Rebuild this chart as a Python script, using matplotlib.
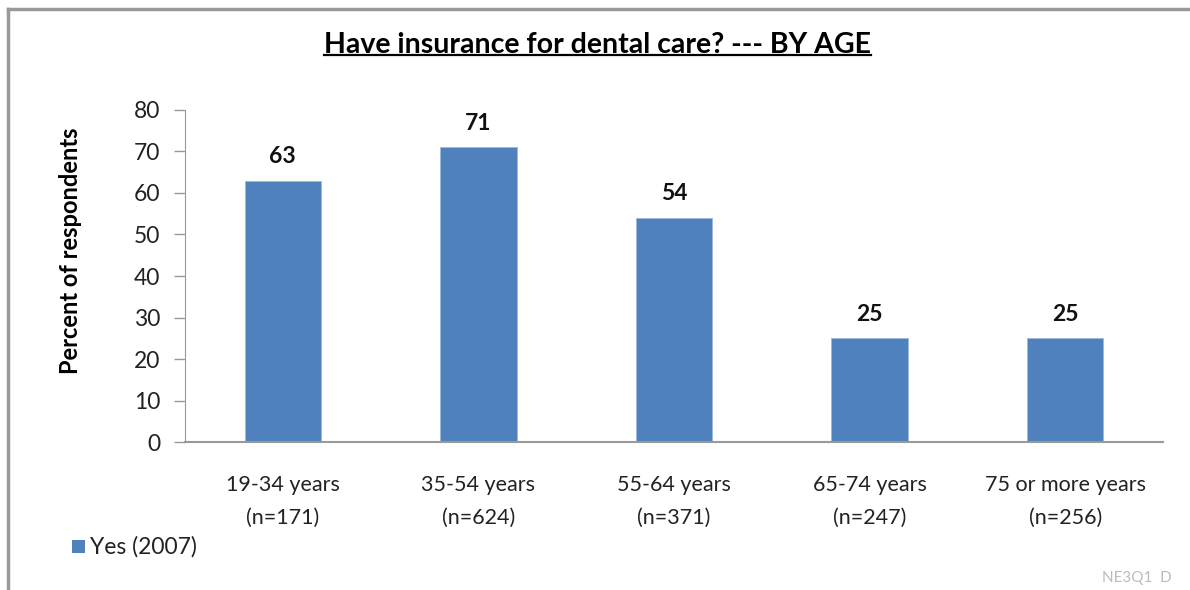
import matplotlib
matplotlib.use("Agg")
import matplotlib.pyplot as plt
from matplotlib.lines import Line2D
from matplotlib.patches import Rectangle

plt.rcParams['font.family'] = ['Lato', 'DejaVu Sans']

categories = ["19-34 years\n(n=171)", "35-54 years\n(n=624)", "55-64 years\n(n=371)",
              "65-74 years\n(n=247)", "75 or more years\n(n=256)"]
values = [63, 71, 54, 25, 25]
yticks = [0, 10, 20, 30, 40, 50, 60, 70, 80]
series_name = "Yes (2007)"
title = "Have insurance for dental care? --- BY AGE"
ylabel = "Percent of respondents"
footnote = "NE3Q1  D"

bar_color = "#4F81BD"

fig = plt.figure(figsize=(11.9, 5.9), dpi=100)
ax = fig.add_axes([0.1555, 0.2508, 0.9773 - 0.1555, 0.8136 - 0.2508])

x = list(range(len(categories)))
ax.bar(x, values, width=0.39, color=bar_color, edgecolor="#9DB9DC", linewidth=0.6)

for xi, v in zip(x, values):
    ax.text(xi, v + 3.3, f"{v}", ha="center", va="bottom", fontsize=16.5, fontweight="bold", color="#111111")

ax.set_xlim(-0.5, len(categories) - 0.5)
ax.set_ylim(0, 80)
ax.set_yticks(yticks)
ax.set_yticklabels([str(t) for t in yticks], fontsize=16.5, color="#222222")
ax.set_xticks(x)
ax.set_xticklabels(categories, fontsize=15.5, color="#222222", linespacing=1.75)
ax.tick_params(axis="y", direction="out", length=8, width=1, color="#999999", pad=10)
ax.tick_params(axis="x", length=0, pad=24)

for side in ("top", "right"):
    ax.spines[side].set_visible(False)
ax.spines["left"].set_color("#999999")
ax.spines["bottom"].set_color("#999999")
ax.spines["bottom"].set_linewidth(1.5)

fig.text(0.059, 0.575, ylabel, rotation=90, ha="center", va="center", fontsize=17, fontweight="bold")

# Title with underline
t = fig.text(0.502, 0.924, title, ha="center", va="center", fontsize=20.5, fontweight="bold")
fig.canvas.draw()
bb = t.get_window_extent(renderer=fig.canvas.get_renderer()).transformed(fig.transFigure.inverted())
fig.add_artist(Line2D([bb.x0, bb.x1], [bb.y0 + 0.004, bb.y0 + 0.004], transform=fig.transFigure,
                      color="black", linewidth=1.6))

# Legend
fig.add_artist(Rectangle((0.0605, 0.062), 0.011, 0.022, transform=fig.transFigure,
                         facecolor=bar_color, edgecolor="none"))
fig.text(0.076, 0.073, series_name, ha="left", va="center", fontsize=16.5, color="#222222")

fig.text(0.985, 0.02, footnote, ha="right", va="center", fontsize=11, color="#BBBBBB")

# Outer frame edges
fig.add_artist(Line2D([0.0065, 0.0065], [0.0, 0.984], transform=fig.transFigure, color="#999999", linewidth=2.5))
fig.add_artist(Line2D([0.0065, 1.0], [0.984, 0.984], transform=fig.transFigure, color="#999999", linewidth=2.5))

fig.savefig("out.png", dpi=100, facecolor="white")
